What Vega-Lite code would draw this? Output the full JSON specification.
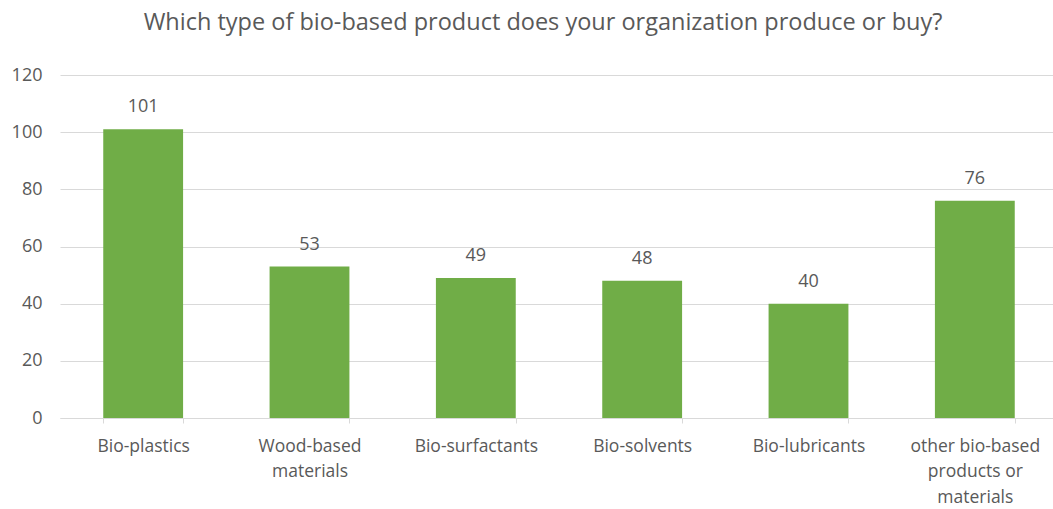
{
  "$schema": "https://vega.github.io/schema/vega-lite/v6.json",
  "width": 998,
  "height": 343,
  "autosize": {"type": "none"},
  "padding": {"left": 60, "top": 75, "right": 0, "bottom": 91},
  "background": "white",
  "title": {
    "text": "Which type of bio-based product does your organization produce or buy?",
    "font": "Open Sans",
    "fontSize": 23.5,
    "fontWeight": "normal",
    "color": "#595959",
    "anchor": "middle",
    "offset": 32,
    "dx": -16
  },
  "data": {
    "values": [
      {"category": "Bio-plastics", "count": 101},
      {"category": "Wood-based materials", "count": 53},
      {"category": "Bio-surfactants", "count": 49},
      {"category": "Bio-solvents", "count": 48},
      {"category": "Bio-lubricants", "count": 40},
      {"category": "other bio-based products or materials", "count": 76}
    ]
  },
  "config": {
    "view": {"stroke": null},
    "font": "Open Sans"
  },
  "encoding": {
    "x": {
      "field": "category",
      "type": "nominal",
      "sort": null,
      "scale": {"paddingInner": 0.52, "paddingOuter": 0.26},
      "axis": {
        "title": null,
        "labelAngle": 0,
        "labelFont": "Open Sans",
        "labelFontSize": 17.5,
        "labelColor": "#595959",
        "labelPadding": 14,
        "labelLineHeight": 25.5,
        "labelExpr": "datum.value == 'Wood-based materials' ? ['Wood-based', 'materials'] : datum.value == 'other bio-based products or materials' ? ['other bio-based', 'products or', 'materials'] : datum.label",
        "domainColor": "#D9D9D9",
        "tickColor": "#D9D9D9",
        "tickBand": "extent",
        "tickSize": 5,
        "grid": false
      }
    },
    "y": {
      "field": "count",
      "type": "quantitative",
      "scale": {"domain": [0, 120], "nice": false},
      "axis": {
        "title": null,
        "values": [0, 20, 40, 60, 80, 100, 120],
        "labelFont": "Open Sans",
        "labelFontSize": 18,
        "labelColor": "#595959",
        "labelPadding": 18,
        "domain": false,
        "ticks": false,
        "gridColor": "#D9D9D9",
        "gridWidth": 1
      }
    }
  },
  "layer": [
    {"mark": {"type": "bar", "color": "#70AD47"}},
    {
      "mark": {"type": "text", "baseline": "bottom", "dy": -13, "fontSize": 18, "color": "#595959", "font": "Open Sans"},
      "encoding": {"text": {"field": "count", "type": "quantitative"}}
    }
  ]
}
